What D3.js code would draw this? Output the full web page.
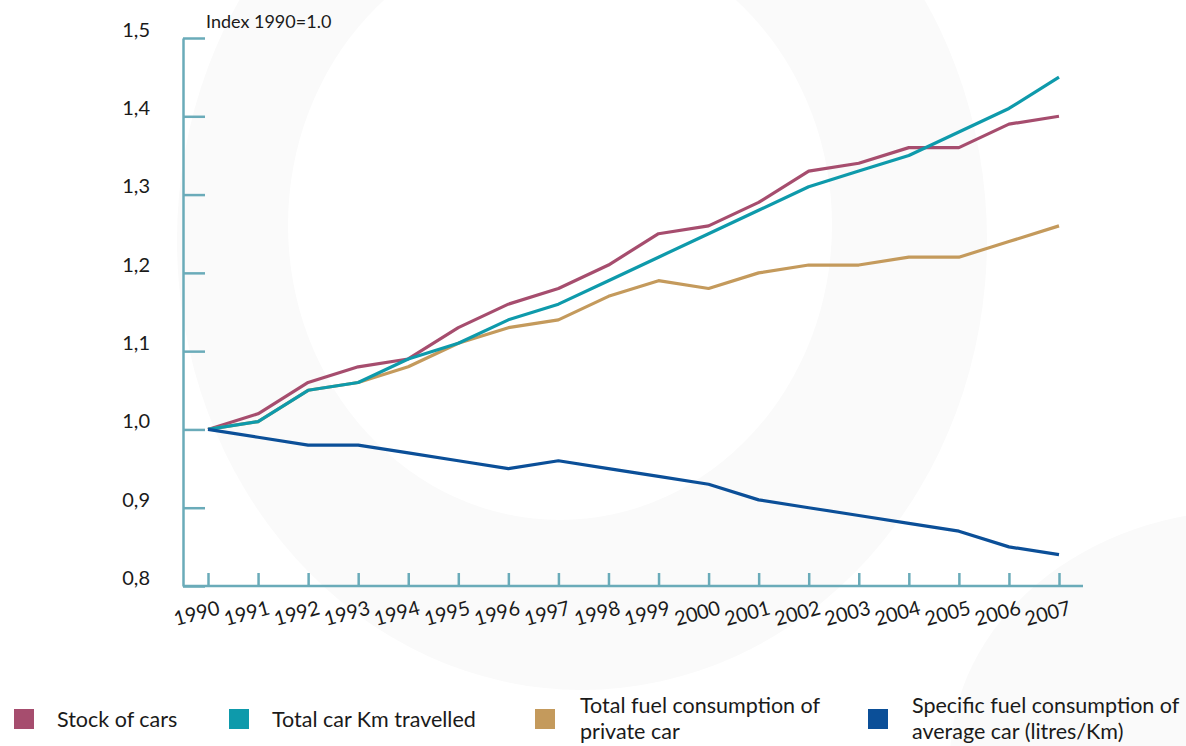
<!DOCTYPE html>
<html>
<head>
<meta charset="utf-8">
<script src="https://cdn.jsdelivr.net/npm/d3@7"></script>
<style>
  body { margin: 0; background: #fff; }
  svg text { font-family: Lato, "Open Sans", sans-serif; fill: #1a1a1a; }
</style>
</head>
<body>
<svg id="chart" width="1186" height="746"></svg>
<script>
// data
const years = [1990, 1991, 1992, 1993, 1994, 1995, 1996, 1997, 1998, 1999, 2000, 2001, 2002, 2003, 2004, 2005, 2006, 2007];
const stockOfCars = [1.00, 1.02, 1.06, 1.08, 1.09, 1.13, 1.16, 1.18, 1.21, 1.25, 1.26, 1.29, 1.33, 1.34, 1.36, 1.36, 1.39, 1.40];
const carKm = [1.00, 1.01, 1.05, 1.06, 1.09, 1.11, 1.14, 1.16, 1.19, 1.22, 1.25, 1.28, 1.31, 1.33, 1.35, 1.38, 1.41, 1.45];
const totalFuel = [1.00, 1.01, 1.05, 1.06, 1.08, 1.11, 1.13, 1.14, 1.17, 1.19, 1.18, 1.20, 1.21, 1.21, 1.22, 1.22, 1.24, 1.26];
const specificFuel = [1.00, 0.99, 0.98, 0.98, 0.97, 0.96, 0.95, 0.96, 0.95, 0.94, 0.93, 0.91, 0.90, 0.89, 0.88, 0.87, 0.85, 0.84];
const yTicks = [0.8, 0.9, 1.0, 1.1, 1.2, 1.3, 1.4, 1.5];

const axisColor = '#6aabb9';
const series = [
  {name: ['Stock of cars'], values: stockOfCars, color: '#a64d6e', lx: 14},
  {name: ['Total fuel consumption of', 'private car'], values: totalFuel, color: '#c49a5c', lx: 535},
  {name: ['Total car Km travelled'], values: carKm, color: '#0e9aab', lx: 229},
  {name: ['Specific fuel consumption of', 'average car (litres/Km)'], values: specificFuel, color: '#0b4f98', lx: 868}
];

const svg = d3.select('#chart');

// faint watermark ring in the background
const bg = svg.append('g');
bg.append('ellipse').attr('cx', 582).attr('cy', 240).attr('rx', 405).attr('ry', 450).attr('fill', '#fafafa');
bg.append('ellipse').attr('cx', 560).attr('cy', 225).attr('rx', 272).attr('ry', 295).attr('fill', '#fff');
bg.append('ellipse').attr('cx', 1250).attr('cy', 760).attr('rx', 300).attr('ry', 250).attr('fill', '#fafafa');

// scales
const x = d3.scaleLinear().domain([1990, 2007]).range([208, 1059]);
const y = d3.scaleLinear().domain([0.8, 1.5]).range([586, 38]);

// y axis
const yAxis = svg.append('g')
    .attr('transform', 'translate(183,0)')
    .call(d3.axisLeft(y)
      .tickValues(yTicks)
      .tickSizeInner(-22)
      .tickSizeOuter(0)
      .tickPadding(33)
      .tickFormat(d => d3.format('.1f')(d).replace('.', ',')));
yAxis.select('.domain').attr('stroke', axisColor).attr('stroke-width', 2.5);
yAxis.selectAll('.tick line').attr('stroke', axisColor).attr('stroke-width', 2.5);
yAxis.selectAll('.tick text')
    .attr('dy', '-0.08em')
    .style('font-size', '20px')
    .style('font-family', 'Lato, sans-serif')
    .attr('fill', '#1a1a1a');

// x axis
const xAxis = svg.append('g')
    .attr('transform', 'translate(0,586)')
    .call(d3.axisBottom(x)
      .tickValues(years)
      .tickSizeInner(-13)
      .tickSizeOuter(0)
      .tickFormat(d3.format('d')));
xAxis.select('.domain').remove();
xAxis.append('line')
    .attr('x1', 183).attr('x2', 1083)
    .attr('stroke', axisColor).attr('stroke-width', 2.5);
xAxis.selectAll('.tick line').attr('stroke', axisColor).attr('stroke-width', 2.5);
xAxis.selectAll('.tick text')
    .attr('y', 0).attr('dy', 0)
    .attr('transform', 'translate(-10,34)rotate(-15)')
    .style('text-anchor', 'middle')
    .style('font-size', '20px')
    .style('font-family', 'Lato, sans-serif')
    .attr('fill', '#1a1a1a');

svg.append('text')
    .attr('x', 206).attr('y', 28)
    .style('font-size', '18px')
    .text('Index 1990=1.0');

// lines
const line = d3.line()
    .x((d, i) => x(years[i]))
    .y(d => y(d));

svg.append('g').selectAll('path')
    .data(series)
    .join('path')
    .attr('d', d => line(d.values))
    .attr('fill', 'none')
    .attr('stroke', d => d.color)
    .attr('stroke-width', 3.2)
    .attr('stroke-linejoin', 'round');

// legend
const legend = svg.append('g');
const items = legend.selectAll('g')
    .data(series)
    .join('g')
    .attr('transform', d => 'translate(' + d.lx + ',0)');
items.append('rect')
    .attr('y', 709).attr('width', 20).attr('height', 20)
    .attr('fill', d => d.color);
items.append('text')
    .style('font-size', '21.5px')
    .each(function(d) {
      const t = d3.select(this);
      const dx = d.lx === 535 ? 45 : d.lx === 868 ? 44 : 43;
      if (d.name.length === 1) {
        t.append('tspan').attr('x', dx).attr('y', 727).text(d.name[0]);
      } else {
        t.append('tspan').attr('x', dx).attr('y', 713).text(d.name[0]);
        t.append('tspan').attr('x', dx).attr('y', 739).text(d.name[1]);
      }
    });
</script>
</body>
</html>
